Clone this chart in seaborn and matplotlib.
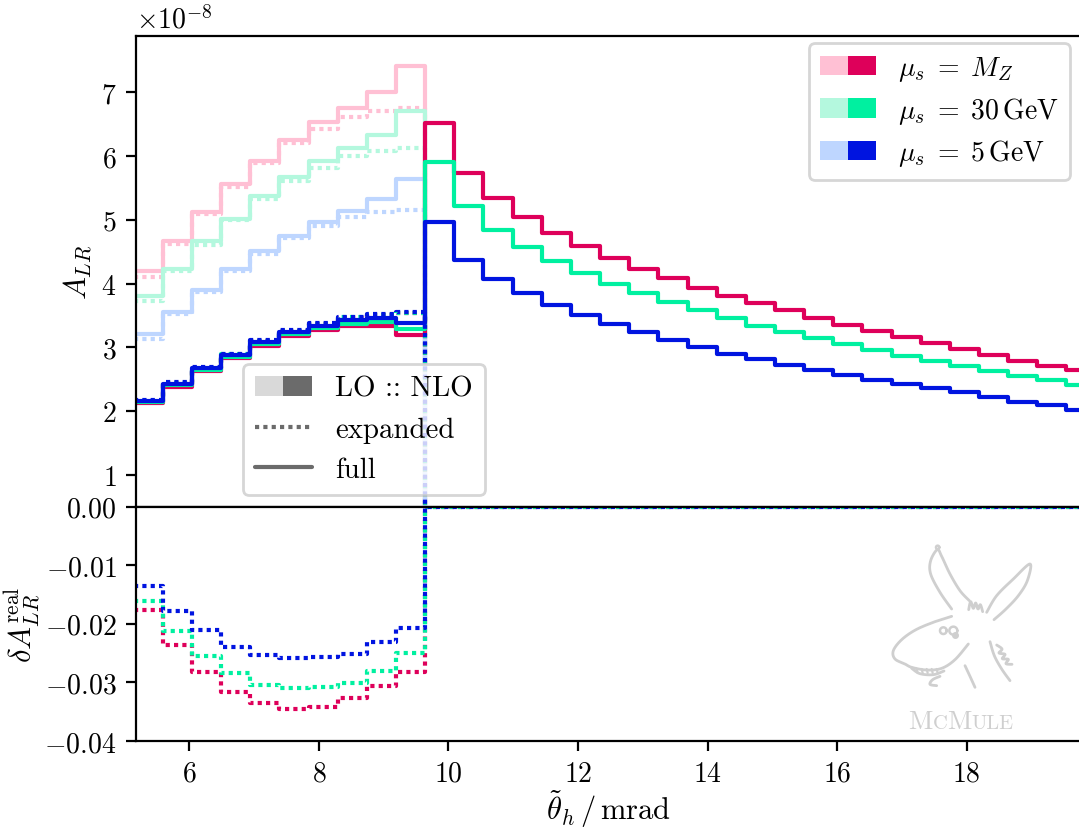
import numpy as np
import pandas as pd
import matplotlib
matplotlib.use("Agg")
import matplotlib.pyplot as plt
import seaborn as sns
from matplotlib.patches import Patch
from matplotlib.lines import Line2D
from matplotlib.legend_handler import HandlerTuple
from matplotlib.offsetbox import TextArea, HPacker, AnnotationBbox

# ---------------------------------------------------------------------------
# Binned data: theta_h bins (mrad) and the asymmetry in units of 1e-8
# ---------------------------------------------------------------------------
bin_edges = [5.14, 5.59, 6.04, 6.49, 6.94, 7.39, 7.84, 8.29, 8.74, 9.19,
             9.64, 10.09, 10.54, 10.99, 11.44, 11.89, 12.34, 12.79, 13.24,
             13.69, 14.14, 14.59, 15.04, 15.49, 15.94, 16.39, 16.84, 17.29,
             17.74, 18.19, 18.64, 19.09, 19.54, 19.99]

scale_labels = [r"$\mu_s \;=\; M_Z$", r"$\mu_s \;=\; 30\,\mathrm{GeV}$",
                r"$\mu_s \;=\; 5\,\mathrm{GeV}$"]
dark_colors = ["#de005a", "#00f0a0", "#0014e0"]
light_colors = ["#ffc0d4", "#b4f8de", "#bed6ff"]

# LO, full (only populated below the cut)
lo_full_mz = [4.20, 4.67, 5.13, 5.56, 5.93, 6.26, 6.54, 6.76, 7.00, 7.42]
lo_full_30 = [3.81, 4.23, 4.66, 5.02, 5.38, 5.67, 5.93, 6.13, 6.33, 6.71]
lo_full_5 = [3.20, 3.55, 3.90, 4.22, 4.51, 4.75, 4.96, 5.14, 5.32, 5.64]

# LO, expanded
lo_exp_mz = [4.10, 4.62, 5.09, 5.52, 5.89, 6.20, 6.43, 6.61, 6.71, 6.76]
lo_exp_30 = [3.72, 4.19, 4.60, 4.99, 5.32, 5.61, 5.82, 6.00, 6.08, 6.13]
lo_exp_5 = [3.13, 3.52, 3.86, 4.19, 4.46, 4.71, 4.90, 5.04, 5.12, 5.15]

# NLO, full
nlo_full_mz = [2.12, 2.38, 2.62, 2.83, 3.02, 3.17, 3.27, 3.33, 3.34, 3.19,
               6.52, 5.74, 5.34, 5.04, 4.80, 4.59, 4.40, 4.23, 4.08, 3.93,
               3.81, 3.70, 3.58, 3.46, 3.35, 3.26, 3.16, 3.07, 2.97, 2.88,
               2.79, 2.71, 2.65]
nlo_full_30 = [2.14, 2.41, 2.64, 2.85, 3.05, 3.20, 3.30, 3.37, 3.40, 3.28,
               5.90, 5.21, 4.84, 4.58, 4.36, 4.17, 3.99, 3.85, 3.71, 3.58,
               3.46, 3.33, 3.24, 3.14, 3.05, 2.96, 2.87, 2.79, 2.70, 2.63,
               2.55, 2.48, 2.41]
nlo_full_5 = [2.16, 2.43, 2.67, 2.88, 3.08, 3.24, 3.34, 3.42, 3.46, 3.38,
              4.96, 4.37, 4.07, 3.85, 3.66, 3.51, 3.37, 3.24, 3.12, 3.00,
              2.90, 2.81, 2.72, 2.65, 2.57, 2.49, 2.43, 2.36, 2.29, 2.22,
              2.14, 2.09, 2.02]

# NLO, expanded (only populated below the cut)
nlo_exp_mz = [2.15, 2.43, 2.67, 2.88, 3.09, 3.25, 3.36, 3.46, 3.50, 3.53]
nlo_exp_30 = [2.16, 2.44, 2.68, 2.89, 3.10, 3.26, 3.37, 3.47, 3.51, 3.54]
nlo_exp_5 = [2.17, 2.45, 2.69, 2.90, 3.11, 3.27, 3.38, 3.48, 3.52, 3.55]

# Relative real correction, expanded
delta_mz = [-0.0177, -0.0236, -0.0282, -0.0317, -0.0336, -0.0345, -0.0342,
            -0.0327, -0.0306, -0.0283]
delta_30 = [-0.0161, -0.0213, -0.0255, -0.0284, -0.0304, -0.0310, -0.0308,
            -0.0301, -0.0280, -0.0250]
delta_5 = [-0.0136, -0.0178, -0.0210, -0.0239, -0.0253, -0.0259, -0.0256,
           -0.0251, -0.0231, -0.0208]

UNIT = 1e-8
N_BINS = len(bin_edges) - 1

# ---------------------------------------------------------------------------
sns.set_theme(style="ticks")
plt.rcParams.update({
    "font.family": ["cmr10"],
    "mathtext.fontset": "cm",
    "axes.formatter.use_mathtext": True,
    "font.size": 10,
    "axes.labelsize": 10,
    "xtick.labelsize": 10,
    "ytick.labelsize": 10,
    "legend.fontsize": 10,
    "axes.linewidth": 0.8,
    "xtick.major.width": 0.8,
    "ytick.major.width": 0.8,
    "xtick.major.size": 3.5,
    "ytick.major.size": 3.5,
    "axes.edgecolor": "black",
    "axes.labelcolor": "black",
    "text.color": "black",
    "xtick.color": "black",
    "ytick.color": "black",
    "lines.linewidth": 1.5,
    "legend.frameon": True,
    "legend.fancybox": True,
    "legend.framealpha": 0.8,
    "legend.edgecolor": "0.8",
})

DOT = (0, (1, 1))


def padded(values):
    """Bins above the cut carry no contribution."""
    vals = list(values)
    return vals + [0.0] * (N_BINS - len(vals))


def step(ax, values, color, ls, factor=1.0):
    vals = padded(values)
    df = pd.DataFrame({"theta": bin_edges,
                       "val": np.array(vals + [vals[-1]]) * factor})
    sns.lineplot(data=df, x="theta", y="val", ax=ax, color=color, lw=1.5,
                 linestyle=ls, drawstyle="steps-post", estimator=None,
                 errorbar=None, legend=False, sort=False)


fig = plt.figure(figsize=(5.395, 4.145), dpi=200)
left = 136 / 1079
width = (1081 - 136) / 1079
ax1 = fig.add_axes([left, 1 - 507.5 / 829, width, (507.5 - 37.3) / 829])
ax2 = fig.add_axes([left, 1 - 742 / 829, width, (742 - 507.5) / 829],
                   sharex=ax1)

lo_full = [lo_full_mz, lo_full_30, lo_full_5]
lo_exp = [lo_exp_mz, lo_exp_30, lo_exp_5]
nlo_full = [nlo_full_mz, nlo_full_30, nlo_full_5]
nlo_exp = [nlo_exp_mz, nlo_exp_30, nlo_exp_5]
deltas = [delta_mz, delta_30, delta_5]

for i in range(3):
    step(ax1, lo_full[i], light_colors[i], "-", UNIT)
    step(ax1, lo_exp[i], light_colors[i], DOT, UNIT)
for i in range(3):
    step(ax1, nlo_full[i], dark_colors[i], "-", UNIT)
    step(ax1, nlo_exp[i], dark_colors[i], DOT, UNIT)
for i in range(3):
    step(ax2, deltas[i], dark_colors[i], DOT)

ax1.set_xlim(5.177, 19.764)
ax1.set_ylim(0.5 * UNIT, 7.88 * UNIT)
ax2.set_ylim(-0.04, 0.0)
ax1.tick_params(labelbottom=False)
ax1.set_xlabel("")
ax1.set_ylabel(r"$A_{LR}$", fontsize=11)
ax2.set_ylabel(r"$\delta A_{LR}^\mathrm{real}$", fontsize=11)
ax2.set_xlabel(r"$\tilde{\theta}_h\,/\,\mathrm{mrad}$", fontsize=11)
ax1.yaxis.set_label_coords(-0.044, 0.5)
ax2.yaxis.set_label_coords(-0.100, 0.5)
ax2.xaxis.set_label_coords(0.5, -0.199)
for ax in (ax1, ax2):
    for s in ax.spines.values():
        s.set_visible(True)

# Legends
scale_handles = [(Patch(facecolor=light_colors[i], edgecolor="none"),
                  Patch(facecolor=dark_colors[i], edgecolor="none"))
                 for i in range(3)]
leg1 = ax1.legend(scale_handles, scale_labels,
                  handler_map={tuple: HandlerTuple(ndivide=None, pad=0)},
                  loc="upper right", bbox_to_anchor=(1070 / 1079, 1 - 44 / 829),
                  bbox_transform=fig.transFigure, borderaxespad=0,
                  labelspacing=0.42)
ax1.add_artist(leg1)

grey_light, grey_dark = "#d9d9d9", "#6b6b6b"
style_handles = [(Patch(facecolor=grey_light, edgecolor="none"),
                  Patch(facecolor=grey_dark, edgecolor="none")),
                 Line2D([], [], color=grey_dark, lw=1.5, linestyle=DOT),
                 Line2D([], [], color=grey_dark, lw=1.5)]
ax1.legend(style_handles, ["LO :: NLO", "expanded", "full"],
           handler_map={tuple: HandlerTuple(ndivide=None, pad=0)},
           loc="lower left", bbox_to_anchor=(243 / 1079, 1 - 496 / 829),
           bbox_transform=fig.transFigure, borderaxespad=0,
           prop={"size": 10.4})

# McMule mascot watermark (pixel coordinates on a figure-wide overlay)
ov = fig.add_axes([0, 0, 1, 1], zorder=5)
ov.set_xlim(0, 1079)
ov.set_ylim(829, 0)
ov.axis("off")
ov.patch.set_alpha(0)


def smooth(pts, n=14):
    p = np.asarray(pts, float)
    p = np.vstack([p[0], p, p[-1]])
    out = []
    t = np.linspace(0, 1, n, endpoint=False)[:, None]
    for k in range(1, len(p) - 2):
        p0, p1, p2, p3 = p[k - 1], p[k], p[k + 1], p[k + 2]
        out.append(0.5 * (2 * p1 + (-p0 + p2) * t
                          + (2 * p0 - 5 * p1 + 4 * p2 - p3) * t ** 2
                          + (-p0 + 3 * p1 - 3 * p2 + p3) * t ** 3))
    out.append(p[-2][None])
    return np.vstack(out)


strokes = [
    [(335, 240), (300, 190), (272, 135), (272, 95), (292, 62), (305, 82),
     (330, 135), (360, 185), (388, 215)],
    [(440, 250), (470, 200), (520, 150), (570, 105), (562, 155),
     (535, 200), (498, 240), (462, 272)],
    [(386, 242), (392, 218), (400, 238), (407, 222), (414, 240), (421, 227),
     (428, 248)],
    [(335, 262), (285, 278), (228, 302), (185, 332), (160, 365), (165, 390),
     (195, 405), (215, 415), (260, 423), (305, 418), (345, 392),
     (385, 345)],
    [(215, 418), (240, 434), (280, 437), (312, 426)],
    [(300, 442), (278, 452), (270, 466), (290, 470)],
    [(375, 410), (390, 442), (405, 475)],
    [(450, 338), (463, 380), (485, 420), (510, 455)],
    [(470, 348), (486, 360), (477, 372), (495, 376), (487, 389), (505, 391),
     (498, 404), (516, 406)],
]
logo_color = "#cfcfcf"
for s in strokes:
    xy = smooth(s)
    ov.plot(840 + xy[:, 0] / 3, 530 + xy[:, 1] / 3, color=logo_color,
            lw=1.0, solid_capstyle="round")
# teeth
for zx in (230, 245, 260, 275, 290):
    ov.plot([840 + zx / 3, 840 + (zx + 3) / 3],
            [530 + 420 / 3, 530 + 432 / 3], color=logo_color, lw=0.8)
# eyes and ear tip
th = np.linspace(0, 2 * np.pi, 40)
for cx, cy, r in ((310, 305, 10), (340, 305, 12), (293, 55, 5)):
    ov.plot(840 + (cx + r * np.cos(th)) / 3, 530 + (cy + r * np.sin(th)) / 3,
            color=logo_color, lw=0.9)
ov.plot([840 + 345 / 3], [530 + 318 / 3], "o", color=logo_color, ms=1.5)

tprops_big = dict(fontsize=9.6, color=logo_color, family="cmr10")
tprops_small = dict(fontsize=7.4, color=logo_color, family="cmr10")
word = HPacker(children=[TextArea("M", textprops=tprops_big),
                         TextArea("C", textprops=tprops_small),
                         TextArea("M", textprops=tprops_big),
                         TextArea("ULE", textprops=tprops_small)],
               align="baseline", pad=0, sep=0)
ov.add_artist(AnnotationBbox(word, (961, 722), xycoords="data",
                             frameon=False, box_alignment=(0.5, 0.5)))

fig.savefig("out.png", dpi=200)
